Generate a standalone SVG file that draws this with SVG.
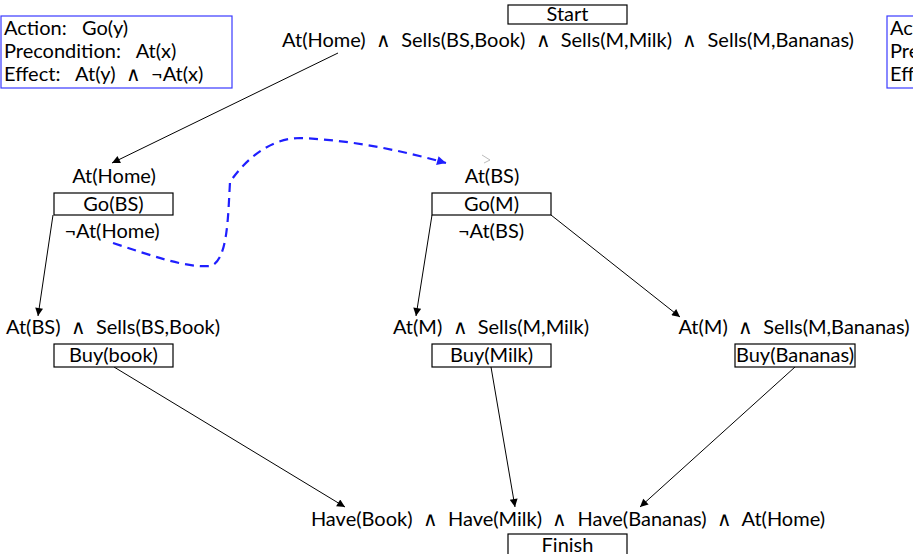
<svg xmlns="http://www.w3.org/2000/svg" width="913" height="554" viewBox="0 0 913 554">
<style>
text{font-family:Lato,"Open Sans","DejaVu Sans",sans-serif;font-size:20px;fill:#000;white-space:pre}
.m{text-anchor:middle}
.op{font-family:"DejaVu Sans",sans-serif;font-weight:200;font-size:20px}
.box{fill:#fff;stroke:#000;stroke-width:1.2}
.schema{fill:#fff;stroke:#3a3aff;stroke-width:1.2}
.edge{stroke:#000;stroke-width:1;fill:none;marker-end:url(#ah)}
.dash{stroke:#1f1fff;stroke-width:2.2;fill:none;stroke-dasharray:9,6;marker-end:url(#bh)}
</style>
<defs>
<marker id="ah" viewBox="0 0 10 10" refX="10" refY="5" markerWidth="12" markerHeight="8" markerUnits="userSpaceOnUse" orient="auto"><path d="M0,0L10,5L0,10z" fill="#000"/></marker>
<marker id="bh" viewBox="0 0 10 10" refX="10" refY="5" markerWidth="12" markerHeight="9" markerUnits="userSpaceOnUse" orient="auto"><path d="M0,0L10,5L0,10z" fill="#1f1fff"/></marker>
</defs>
<rect width="913" height="554" fill="#fff"/>
<g id="connectors">
<path class="edge" d="M338,53L112,163"/>
<path class="edge" d="M53,215L38,316"/>
<path class="edge" d="M432,215L416,316"/>
<path class="edge" d="M551,215L680,317"/>
<path class="edge" d="M114,367L345,507"/>
<path class="edge" d="M491,367L515,507"/>
<path class="edge" d="M795,367L640,507"/>
<path class="dash" d="M113,243C150,255 185,268 210,266C228,262 228,215 230,182C245,160 270,138 300,138C350,140 400,150 446,163"/>
<path d="M482,155L490,160L484,163" fill="none" stroke="#aaa" stroke-width="0.8"/>
</g>
<g id="schema-go">
<rect class="schema" x="1" y="16" width="231" height="72"/>
<text x="4" y="35">Action:   Go(y)</text>
<text x="4" y="58">Precondition:   At(x)</text>
<text x="4" y="81">Effect:   At(y)  <tspan class="op">∧</tspan>  ¬At(x)</text>
</g>
<g id="schema-buy">
<rect class="schema" x="887" y="16" width="40" height="72"/>
<text x="890" y="35">Action</text>
<text x="890" y="58">Precondition</text>
<text x="890" y="81">Effect</text>
</g>
<g id="start">
<rect class="box" x="508" y="5" width="119" height="19"/>
<text class="m" x="567.5" y="21">Start</text>
<text class="m" x="568" y="47">At(Home)  <tspan class="op">∧</tspan>  Sells(BS,Book)  <tspan class="op">∧</tspan>  Sells(M,Milk)  <tspan class="op">∧</tspan>  Sells(M,Bananas)</text>
</g>
<g id="go-bs">
<text class="m" x="114" y="183">At(Home)</text>
<rect class="box" x="54" y="193" width="119" height="22"/>
<text class="m" x="113.5" y="211">Go(BS)</text>
<text class="m" x="112" y="238">¬At(Home)</text>
</g>
<g id="go-m">
<text class="m" x="492" y="183">At(BS)</text>
<rect class="box" x="432" y="193" width="119" height="22"/>
<text class="m" x="491.5" y="211">Go(M)</text>
<text class="m" x="491" y="238">¬At(BS)</text>
</g>
<g id="buy-book">
<text class="m" x="113" y="334">At(BS)  <tspan class="op">∧</tspan>  Sells(BS,Book)</text>
<rect class="box" x="54" y="344" width="119" height="23"/>
<text class="m" x="113.5" y="362">Buy(book)</text>
</g>
<g id="buy-milk">
<text class="m" x="491" y="334">At(M)  <tspan class="op">∧</tspan>  Sells(M,Milk)</text>
<rect class="box" x="432" y="344" width="119" height="23"/>
<text class="m" x="491.5" y="362">Buy(Milk)</text>
</g>
<g id="buy-bananas">
<text class="m" x="794" y="334">At(M)  <tspan class="op">∧</tspan>  Sells(M,Bananas)</text>
<rect class="box" x="735" y="344" width="120" height="23"/>
<text class="m" x="795" y="362">Buy(Bananas)</text>
</g>
<g id="finish">
<text class="m" x="568" y="526">Have(Book)  <tspan class="op">∧</tspan>  Have(Milk)  <tspan class="op">∧</tspan>  Have(Bananas)  <tspan class="op">∧</tspan>  At(Home)</text>
<rect class="box" x="508" y="534" width="119" height="22"/>
<text class="m" x="567.5" y="552">Finish</text>
</g>
</svg>
